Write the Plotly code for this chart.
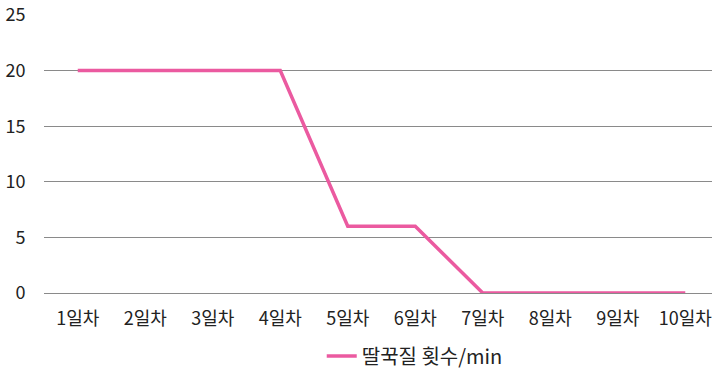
import plotly.graph_objects as go

categories = ["1일차", "2일차", "3일차", "4일차", "5일차", "6일차", "7일차", "8일차", "9일차", "10일차"]
values = [20, 20, 20, 20, 6, 6, 0, 0, 0, 0]
series_name = "딸꾹질 횟수/min"

font_family = "Noto Sans CJK KR, Noto Sans, sans-serif"

fig = go.Figure()
fig.add_trace(go.Scatter(
    x=categories, y=values, mode="lines", name=series_name,
    line=dict(color="#EB5AA0", width=3.5),
))

fig.update_layout(
    width=712, height=371,
    margin=dict(l=44, r=0, t=15, b=78, autoexpand=False),
    paper_bgcolor="white", plot_bgcolor="white",
    font=dict(family=font_family, size=17, color="#222222"),
    showlegend=True,
    legend=dict(orientation="h", x=0.555, xanchor="center", yref="container",
                y=1 - 356 / 371, yanchor="middle",
                font=dict(size=20, color="#222222")),
    xaxis=dict(type="category", range=[-0.5, 9.396], showgrid=False, showline=False,
               ticks="outside", tickcolor="white", ticklen=9, tickfont=dict(size=18)),
    yaxis=dict(range=[0, 25], dtick=5, showgrid=True, gridcolor="#8a8a8a", gridwidth=1,
               zeroline=True, zerolinecolor="#8a8a8a", zerolinewidth=1,
               ticks="outside", tickcolor="white", ticklen=14, tickfont=dict(size=18)),
)

fig.write_html("out.html")
